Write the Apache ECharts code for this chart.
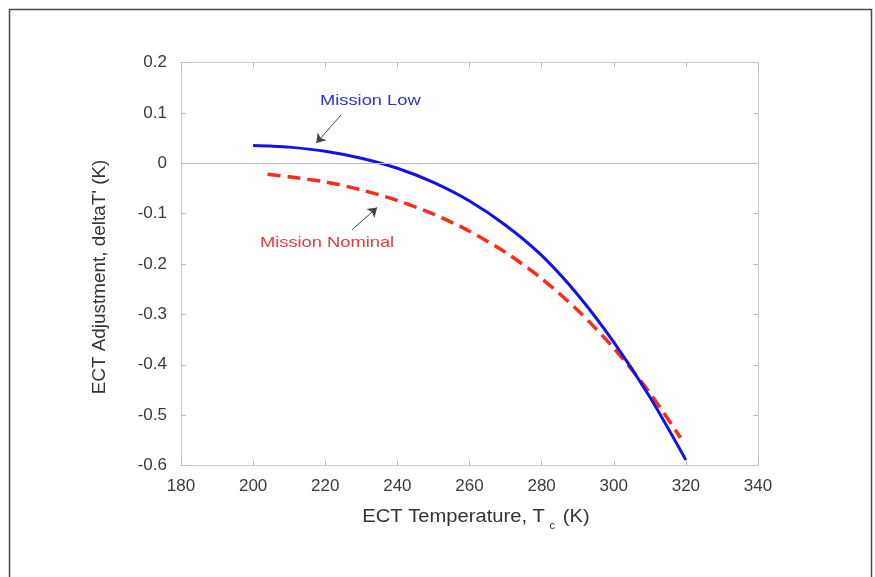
<!DOCTYPE html>
<html>
<head>
<meta charset="utf-8">
<script src="https://cdn.jsdelivr.net/npm/echarts@6/dist/echarts.min.js"></script>
<style>
html,body{margin:0;padding:0;background:#fff;}
#c{width:875px;height:577px;}
</style>
</head>
<body>
<div id="c"></div>
<script>
// ---- data ----
const xTicksMin = 180, xTicksMax = 340, xInterval = 20;
const yTicksMin = -0.6, yTicksMax = 0.2, yInterval = 0.1;

const lowT     = [200, 205, 210, 220, 230, 240, 250, 260, 270, 280, 290, 300, 310, 320];
const lowDelta = [0.035, 0.034, 0.032, 0.024, 0.010, -0.010, -0.038, -0.075, -0.123, -0.183, -0.261, -0.355, -0.464, -0.589];

const nomT     = [204, 210, 220, 230, 240, 250, 260, 270, 280, 290, 300, 310, 318.5];
const nomDelta = [-0.022, -0.027, -0.037, -0.053, -0.074, -0.101, -0.135, -0.177, -0.229, -0.292, -0.367, -0.456, -0.545];

const lowArrow = [[224.4, 0.096], [217.5, 0.040]];
const nomArrow = [[227.4, -0.132], [234.4, -0.088]];
const lowLabelPos = [232.5, 0.124];
const nomLabelPos = [220.5, -0.159];
const lowName = 'Mission Low';
const nomName = 'Mission Nominal';

const lowData = lowT.map((t, i) => [t, lowDelta[i]]);
const nomData = nomT.map((t, i) => [t, nomDelta[i]]);

const FONT = '"Liberation Sans", Arial, sans-serif';
const axisGray = '#c8c8c8';

function xAxisDef(pos, showLabel) {
  return {
    type: 'value', position: pos, min: xTicksMin, max: xTicksMax, interval: xInterval,
    axisLine: { show: true, onZero: false, lineStyle: { color: axisGray, width: 1 } },
    axisTick: { show: true, inside: true, length: 5, lineStyle: { color: '#bbbbbb' } },
    axisLabel: { show: showLabel, color: '#3a3a3a', fontSize: 17, fontFamily: FONT, margin: 12 },
    splitLine: { show: false }
  };
}
function yAxisDef(pos, showLabel) {
  return {
    type: 'value', position: pos, min: yTicksMin, max: yTicksMax, interval: yInterval,
    axisLine: { show: true, onZero: false, lineStyle: { color: axisGray, width: 1 } },
    axisTick: { show: true, inside: true, length: 5, lineStyle: { color: '#bbbbbb' } },
    axisLabel: { show: showLabel, color: '#3a3a3a', fontSize: 17, fontFamily: FONT, margin: 14 },
    splitLine: { show: false }
  };
}

const chart = echarts.init(document.getElementById('c'), null, { renderer: 'canvas' });
chart.setOption({
  backgroundColor: '#ffffff',
  animation: false,
  grid: { left: 181, right: 117, top: 62.5, bottom: 111.5, containLabel: false },
  xAxis: [xAxisDef('bottom', true), xAxisDef('top', false)],
  yAxis: [yAxisDef('left', true), yAxisDef('right', false)],
  series: [
    {
      name: nomName, type: 'line', data: nomData, smooth: 0.3, showSymbol: false,
      lineStyle: { color: '#ff2a1a', width: 3.5, type: [13, 7] },
      z: 3,
      markLine: {
        silent: true, symbol: ['none', 'arrow'], symbolSize: 9,
        label: { show: false },
        lineStyle: { color: '#444', width: 1, type: 'solid' },
        data: [
          [{ coord: nomArrow[0] }, { coord: nomArrow[1] }]
        ]
      }
    },
    {
      name: lowName, type: 'line', data: lowData, smooth: 0.3, showSymbol: false,
      lineStyle: { color: '#1212e6', width: 3 },
      z: 4,
      markLine: {
        silent: true, symbol: ['none', 'arrow'], symbolSize: 9,
        label: { show: false },
        lineStyle: { color: '#444', width: 1, type: 'solid' },
        data: [
          [{ coord: lowArrow[0] }, { coord: lowArrow[1] }],
          [{ coord: [xTicksMin, 0], symbol: 'none' }, { coord: [xTicksMax, 0], symbol: 'none', lineStyle: { color: '#bdbdbd', width: 1 } }]
        ]
      }
    }
  ]
});

const pLow = chart.convertToPixel({ xAxisIndex: 0, yAxisIndex: 0 }, lowLabelPos);
const pNom = chart.convertToPixel({ xAxisIndex: 0, yAxisIndex: 0 }, nomLabelPos);

chart.setOption({
  graphic: [
    {
      type: 'rect', silent: true,
      shape: { x: 9.5, y: 9.5, width: 862, height: 620 },
      style: { fill: 'none', stroke: '#4a4a4a', lineWidth: 1.5 }
    },
    {
      type: 'text', x: pLow[0], y: pLow[1], scaleX: 1.22, silent: true,
      style: { text: lowName, fill: '#3030d8', font: '15px ' + FONT, align: 'center', verticalAlign: 'middle' }
    },
    {
      type: 'text', x: pNom[0], y: pNom[1], scaleX: 1.22, silent: true,
      style: { text: nomName, fill: '#ea3a3a', font: '15px ' + FONT, align: 'center', verticalAlign: 'middle' }
    },
    {
      type: 'text', x: 476, y: 517, scaleX: 1.12, silent: true,
      style: {
        text: '{a|ECT Temperature, T}{s|c}{a| (K)}',
        align: 'center', verticalAlign: 'middle',
        rich: {
          a: { font: '18px ' + FONT, fill: '#333' },
          s: { font: '10px ' + FONT, fill: '#333', padding: [18, 2, 0, 4] }
        }
      }
    },
    {
      type: 'text', x: 100, y: 277, rotation: Math.PI / 2, scaleX: 1.05, silent: true,
      style: { text: "ECT Adjustment, deltaT' (K)", fill: '#333', font: '18px ' + FONT, align: 'center', verticalAlign: 'middle' }
    }
  ]
});
</script>
</body>
</html>
